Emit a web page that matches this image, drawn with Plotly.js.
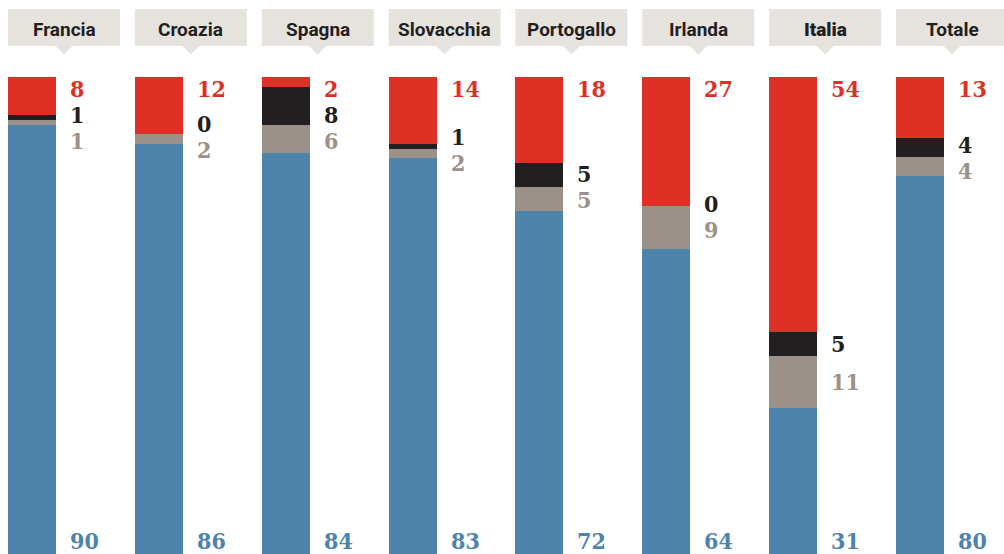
<!DOCTYPE html>
<html>
<head>
<meta charset="utf-8">
<script src="https://cdn.plot.ly/plotly-3.0.1.min.js"></script>
<style>
html,body{margin:0;padding:0;background:#fff;}
#chart{width:1004px;height:554px;}
</style>
</head>
<body>
<div id="chart"></div>
<script>
const categories = ['Francia','Croazia','Spagna','Slovacchia','Portogallo','Irlanda','Italia','Totale'];
const blueVals  = [90, 86, 84, 83, 72, 64, 31, 80];
const greyVals  = [1, 2, 6, 2, 5, 9, 11, 4];
const blackVals = [1, 0, 8, 1, 5, 0, 5, 4];
const redVals   = [8, 12, 2, 14, 18, 27, 54, 13];
const highlight = 'Italia';

const C_BLUE = '#4e83ac', C_GREY = '#9c9189', C_BLACK = '#231f20', C_RED = '#de3025';
const HEADER_BG = '#e6e3df';

const W = 1004, H = 554, TOP = 77;
const plotH = H - TOP;
const slotPx = 126.86;
const r0 = -32 / slotPx;
const r1 = r0 + W / slotPx;
const barW = 48 / slotPx;

const xs = categories.map((c, i) => i);

function barTrace(vals, color) {
  return {type: 'bar', x: xs, y: vals, width: barW, marker: {color: color, line: {width: 0}},
          hoverinfo: 'skip', showlegend: false};
}
const data = [barTrace(blueVals, C_BLUE), barTrace(greyVals, C_GREY),
              barTrace(blackVals, C_BLACK), barTrace(redVals, C_RED)];

const annotations = [];
const shapes = [];
const labelFont = (color) => ({family: '"DejaVu Serif Condensed", "DejaVu Serif", serif', size: 23, color: color, weight: 700});
const XSHIFT = 36;

categories.forEach((cat, i) => {
  const tot = blueVals[i] + greyVals[i] + blackVals[i] + redVals[i];
  const pct = v => v / tot * 100;
  const px = p => (100 - p) / 100 * plotH;
  const b = pct(blueVals[i]), g = pct(greyVals[i]), k = pct(blackVals[i]);
  let redPos = 11;
  let kPos = px(b + g + k / 2);
  let gPos = px(b + g / 2);
  const gap = 26;
  for (let it = 0; it < 200; it++) {
    if (kPos < redPos + gap) kPos = redPos + gap;
    if (gPos - kPos < gap) {
      const m = (gPos + kPos) / 2;
      kPos = m - gap / 2; gPos = m + gap / 2;
    }
    if (kPos < redPos + gap) { kPos = redPos + gap; if (gPos < kPos + gap) gPos = kPos + gap; }
  }
  const toY = p => 100 - p / plotH * 100;
  const lbl = (val, yv, color, yshift) => annotations.push({
    x: i, xref: 'x', y: yv, yref: 'y', text: String(val), showarrow: false,
    xanchor: 'left', yanchor: 'middle', xshift: XSHIFT, yshift: yshift, font: labelFont(color)
  });
  lbl(redVals[i], 100, C_RED, -11);
  lbl(blackVals[i], toY(kPos), C_BLACK, 0);
  lbl(greyVals[i], toY(gPos), C_GREY, 0);
  lbl(blueVals[i], 0, C_BLUE, 14);

  const hc = i + 32 / slotPx;
  const halfBox = 56 / slotPx;
  const py = p => (H - p) / plotH;
  shapes.push({type: 'rect', xref: 'x', yref: 'paper', x0: hc - halfBox, x1: hc + halfBox,
               y0: py(46), y1: py(9), fillcolor: HEADER_BG, line: {width: 0}, layer: 'above'});
  const tw = 8.5 / slotPx;
  shapes.push({type: 'path', xref: 'x', yref: 'paper',
               path: 'M ' + (hc - tw) + ' ' + py(46) + ' L ' + (hc + tw) + ' ' + py(46) + ' L ' + hc + ' ' + py(54.5) + ' Z',
               fillcolor: HEADER_BG, line: {width: 0}, layer: 'above'});
  annotations.push({x: hc, xref: 'x', y: py(29.5), yref: 'paper', text: cat, showarrow: false,
                    xanchor: 'center', yanchor: 'middle',
                    font: {family: 'Roboto, "Open Sans", sans-serif', size: 19, color: '#231f20',
                           weight: cat === highlight ? 900 : 700}});
});

const layout = {
  width: W, height: H,
  margin: {l: 0, r: 0, t: TOP, b: 0, pad: 0},
  paper_bgcolor: '#fff', plot_bgcolor: '#fff',
  barmode: 'stack', barnorm: 'percent',
  showlegend: false, hovermode: false,
  xaxis: {range: [r0, r1], visible: false, fixedrange: true},
  yaxis: {range: [0, 100], visible: false, fixedrange: true},
  annotations: annotations, shapes: shapes
};

Plotly.newPlot('chart', data, layout, {displayModeBar: false, staticPlot: true});
</script>
</body>
</html>
